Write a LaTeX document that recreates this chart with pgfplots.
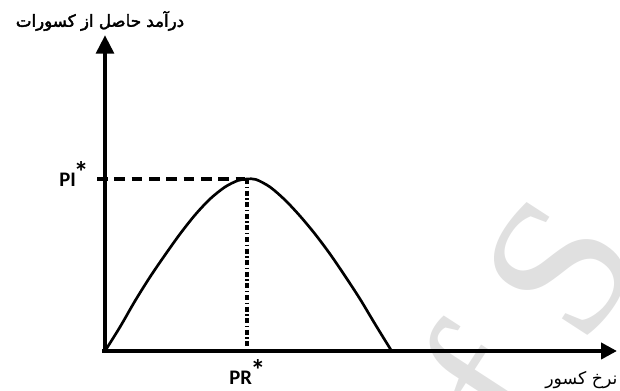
\documentclass[border=0pt]{standalone}
\usepackage{fontspec}
\usepackage{pgfplots}
\pgfplotsset{compat=1.18}
\usetikzlibrary{arrows.meta}
\TeXXeTstate=1
\newfontfamily\fa[Script=Arabic]{DejaVu Sans}
\newfontfamily\fab[Script=Arabic,FakeBold=2.5]{DejaVu Sans}
\newfontfamily\lat{Carlito}
\newfontfamily\wm{Liberation Serif}

\begin{document}
\begin{tikzpicture}
\begin{axis}[
    scale only axis,
    width=465pt, height=293.25pt,
    xmin=0, xmax=620, ymin=0, ymax=391,
    hide axis, clip=false,
]
% faint watermark
\node[rotate=57, text=black!12, font=\wm\fontsize{150}{150}\selectfont] at (axis cs:560,124) {S};
\node[rotate=57, text=black!12, font=\wm\fontsize{150}{150}\selectfont] at (axis cs:484,10) {f};

% axes
\addplot[line width=3.6pt, -{Triangle[length=14pt,width=13pt]}] coordinates {(105,38) (105,356)};
\addplot[line width=3.6pt, -{Triangle[length=12pt,width=12pt]}] coordinates {(102,40) (617,40)};

% guide lines
\addplot[line width=2.8pt, dash pattern=on 8pt off 5pt] coordinates {(97,212) (245,212)};
\addplot[line width=2.5pt, dash pattern=on 3.8pt off 1.9pt on 1.1pt off 1.9pt] coordinates {(247,212) (247,40)};

% revenue curve
\addplot[line width=2pt, smooth] coordinates {
    (105,40) (120,64) (135,90) (150,114) (165,136) (180,157) (195,176)
    (210,192) (225,204) (238,210.5) (247,212) (256,211.5) (270,204)
    (285,191) (300,175) (315,157) (330,137) (345,115) (360,92) (375,67) (391,41)
};

% labels
\node[anchor=base west, inner sep=0pt, font=\lat\bfseries\fontsize{15.5}{15.5}\selectfont]
    at (axis cs:59,204) {PI\kern-1.5pt\raisebox{3pt}{\fontsize{22}{22}\selectfont *}};
\node[anchor=base west, inner sep=0pt, font=\lat\bfseries\fontsize{15.5}{15.5}\selectfont]
    at (axis cs:229,6) {PR\kern-1pt\raisebox{3pt}{\fontsize{22}{22}\selectfont *}};
\node[inner sep=0pt, font=\fab\fontsize{12.5}{14}\selectfont] at (axis cs:100,370) {\beginR درآمد حاصل از کسورات\endR};
\node[anchor=west, inner sep=0pt, font=\fa\fontsize{13}{15}\selectfont] at (axis cs:545,11) {\beginR نرخ کسور\endR};
\end{axis}
\pgfresetboundingbox
\path (current axis.south west) rectangle (current axis.north east);
\end{tikzpicture}
\end{document}
